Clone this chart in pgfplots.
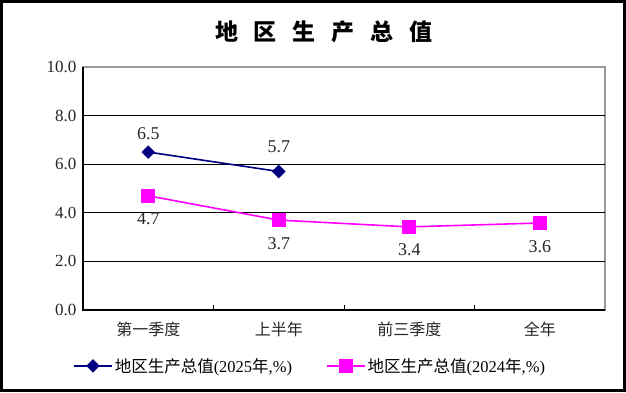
\documentclass[border=0pt]{standalone}
\usepackage{fontspec}
\setmainfont{Liberation Serif}
\newfontfamily\cjk{Noto Sans CJK SC}
\usepackage{pgfplots}
\pgfplotsset{compat=1.18}
\definecolor{navyc}{RGB}{0,0,128}
\definecolor{magc}{RGB}{255,0,255}
\pgfplotstableread{
x y s
0 6.5 8
1 5.7 15
}\tabA
\begin{document}
\begin{tikzpicture}[x=1pt,y=1pt]
\useasboundingbox (0,0) rectangle (626,392);
\draw[line width=3pt] (1.5,1.5) rectangle (624.5,390.5);
\node at (324,360) {\cjk\bfseries\fontsize{23}{26}\selectfont 地\hspace{16pt}区\hspace{16pt}生\hspace{16pt}产\hspace{16pt}总\hspace{16pt}值};
\begin{axis}[
  at={(83pt,82pt)}, anchor=south west,
  scale only axis, width=522pt, height=243pt,
  xmin=-0.5, xmax=3.5, ymin=0, ymax=10,
  /pgf/number format/assume math mode=true,
  ticklabel style={font=\fontsize{17}{17}\selectfont, text=black!85},
  tick style={black, line width=1pt},
  tick align=inside, major tick length=5pt,
  xtick pos=bottom, ytick pos=left,
  xtick={0.5,1.5,2.5}, xticklabels={},
  extra x ticks={0,1,2,3},
  extra x tick labels={{\cjk 第一季度},{\cjk 上半年},{\cjk 前三季度},{\cjk 全年}},
  extra x tick style={major tick length=0pt, xticklabel style={yshift=-8pt, font=\fontsize{16}{16}\selectfont}},
  ytick={0,2,4,6,8,10},
  yticklabel style={/pgf/number format/.cd, fixed, fixed zerofill, precision=1, /tikz/.cd, xshift=-3pt},
  extra y ticks={2,4,6,8}, extra y tick labels={},
  extra y tick style={grid=major, major grid style={black, line width=1.2pt}},
  axis line style={gray!80, line width=1.2pt},
  clip=false,
  legend style={at={(axis description cs:-0.025,-0.23)}, anchor=west, draw=none, fill=none,
    font=\fontsize{16.5}{17}\selectfont, legend columns=2,
    /tikz/every even column/.append style={column sep=32pt}},
  legend cell align=left,
  legend image code/.code={\draw[mark repeat=2,mark phase=2,#1] plot coordinates {(0pt,0pt) (19pt,0pt) (38pt,0pt)};},
  nodes near coords={\pgfmathprintnumber[fixed,fixed zerofill,precision=1]{\pgfplotspointmeta}},
]
\addplot[navyc, line width=1.6pt, mark=square*, mark size=4pt, mark options={rotate=45, fill=navyc, solid},
  visualization depends on={\thisrow{s} \as \ls},
  every node near coord/.append style={anchor=south, yshift=\ls pt, text=black!85, font=\fontsize{18}{18}\selectfont}]
  table[x=x, y=y] {\tabA};
\addlegendentry{{\cjk 地区生产总值}(2025{\cjk 年},\%)}
\addplot[magc, line width=1.6pt, mark=square*, mark size=6pt, mark options={fill=magc, solid},
  every node near coord/.append style={anchor=north, yshift=-13pt, text=black!85, font=\fontsize{18}{18}\selectfont}]
  coordinates {(0,4.7) (1,3.7) (2,3.42) (3,3.58)};
\addlegendentry{{\cjk 地区生产总值}(2024{\cjk 年},\%)}
\draw[black, line width=1.5pt] (rel axis cs:0,1) -- (rel axis cs:0,0) -- (rel axis cs:1,0);
\end{axis}
\end{tikzpicture}
\end{document}
